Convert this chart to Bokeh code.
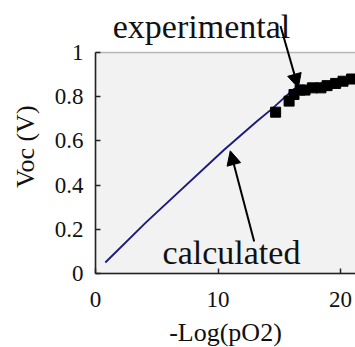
from bokeh.plotting import figure
from bokeh.models import Label, Arrow, NormalHead, FixedTicker, Range1d, BoxAnnotation
from bokeh.embed import file_html
from bokeh.resources import INLINE

# calculated curve
calc_x = [0.8, 4.1, 10.5, 13.2, 14.4, 15.3, 16.2, 18.0, 21.3]
calc_y = [0.05, 0.23, 0.56, 0.69, 0.745, 0.79, 0.835, 0.855, 0.885]

# experimental points
exp_x = [14.7, 15.8, 16.2, 16.7, 17.1, 17.7, 18.4, 18.9, 19.6, 20.2, 20.9]
exp_y = [0.73, 0.78, 0.81, 0.83, 0.83, 0.84, 0.84, 0.85, 0.86, 0.87, 0.88]

x_ticks = [0, 10, 20]
x_tick_labels = ["0", "10", "20"]
y_ticks = [0, 0.2, 0.4, 0.6, 0.8, 1.0]
y_tick_labels = ["0", "0.2", "0.4", "0.6", "0.8", "1"]

FONT = "Liberation Serif"

p = figure(width=355, height=347, output_backend="svg", toolbar_location=None,
           x_range=Range1d(-7.755, 21.22), y_range=Range1d(-0.3348, 1.2353),
           min_border_left=0, min_border_top=0, min_border_bottom=0, min_border_right=0)

p.background_fill_color = "white"
p.border_fill_color = "white"
p.outline_line_color = None
p.grid.visible = False

# plotting area: grey box with black top border (right edge lies beyond the view)
p.add_layout(BoxAnnotation(bottom=0, top=1.0, left=0, right=30, fill_color="#f2f2f2", fill_alpha=1.0,
                           line_color="#222222", line_width=1.5, level="underlay"))

for ax, ticks, labels in ((p.xaxis[0], x_ticks, x_tick_labels), (p.yaxis[0], y_ticks, y_tick_labels)):
    ax.ticker = FixedTicker(ticks=ticks)
    ax.major_label_overrides = {t: l for t, l in zip(ticks, labels)}
    ax.major_tick_in = 5
    ax.major_tick_out = 0
    ax.minor_tick_line_color = None
    ax.axis_line_color = "#222222"
    ax.axis_line_width = 1.5
    ax.major_tick_line_color = "#222222"
    ax.major_tick_line_width = 1.5
    ax.major_label_text_font = FONT
    ax.major_label_text_font_size = "23px"
    ax.major_label_text_color = "#111111"
    ax.axis_label_text_font = FONT
    ax.axis_label_text_font_size = "26px"
    ax.axis_label_text_font_style = "normal"
    ax.axis_label_text_color = "#111111"

p.xaxis.fixed_location = 0
p.yaxis.fixed_location = 0
p.xaxis.bounds = (0, 21.22)
p.yaxis.bounds = (0, 1)
p.xaxis.axis_label = "-Log(pO2)"
p.yaxis.axis_label = "\u00a0" * 5 + "Voc (V)"
p.yaxis.major_label_standoff = 12
p.xaxis.major_label_standoff = 18
p.yaxis.axis_label_standoff = 12
p.xaxis.axis_label_standoff = 8

p.line(calc_x, calc_y, line_color="#1a1a80", line_width=1.9)
p.scatter(exp_x, exp_y, marker="square", size=10, color="black")

p.add_layout(Label(x=8.65, y=1.118, text="experimental", text_align="center",
                   text_baseline="alphabetic", text_font=FONT, text_font_size="34px",
                   text_color="#111111"))
p.add_layout(Label(x=11.1, y=0.095, text="calculated", text_align="center",
                   text_baseline="alphabetic", text_font=FONT, text_font_size="34px",
                   text_color="#111111"))

p.add_layout(Arrow(end=NormalHead(size=14, fill_color="black", line_color="black"),
                   x_start=15.1, y_start=1.12, x_end=16.55, y_end=0.84,
                   line_color="black", line_width=2))
p.add_layout(Arrow(end=NormalHead(size=14, fill_color="black", line_color="black"),
                   x_start=12.95, y_start=0.145, x_end=11.0, y_end=0.555,
                   line_color="black", line_width=2))

open("out.html", "w").write(file_html(p, INLINE))
